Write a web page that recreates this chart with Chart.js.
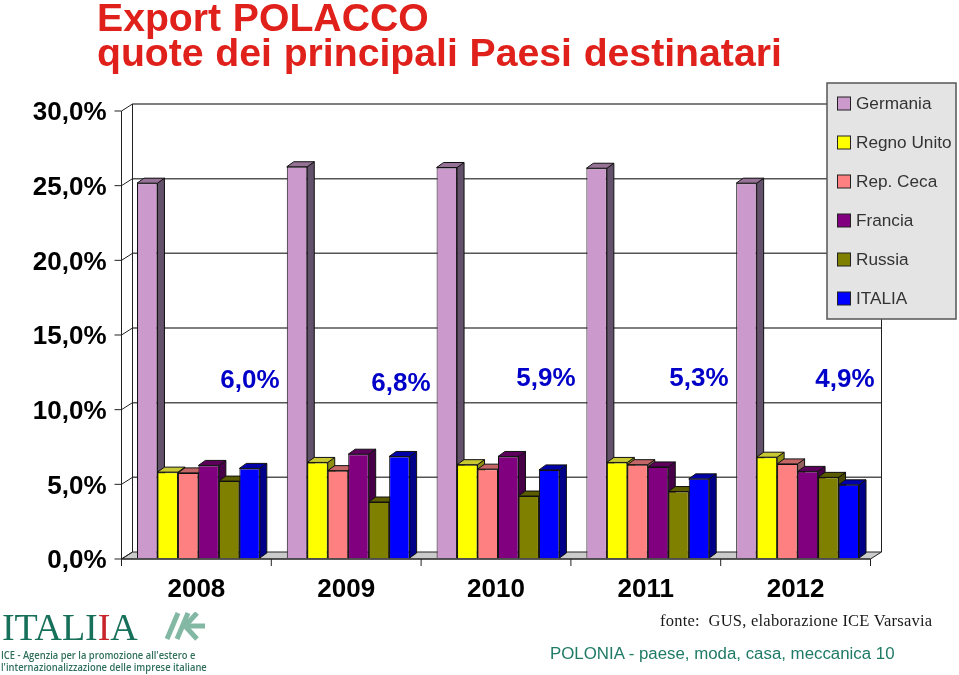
<!DOCTYPE html>
<html>
<head>
<meta charset="utf-8">
<title>Export POLACCO</title>
<script src="https://cdn.jsdelivr.net/npm/chart.js@4/dist/chart.umd.min.js"></script>
<style>
  html, body { margin: 0; padding: 0; background: #fff; overflow: hidden; }
  #wrap { position: relative; width: 959px; height: 675px; }
  #chart { position: absolute; left: 0; top: 0; }
  .txt { position: absolute; white-space: pre; }
  #title { left: 97px; top: 0; font: bold 39.2px/35px "Liberation Sans", Arial, sans-serif; color: #e0201b; word-spacing: .8px; }
  #fonte { left: 660px; top: 611px; font: 16.5px "Liberation Serif", serif; color: #1a1a1a; letter-spacing: .23px; }
  #footer { left: 550px; top: 644px; font: 16.85px "Liberation Sans", Arial, sans-serif; color: #1f7a66; }
  #logo1 { left: 2px; top: 605px; font: 38px "Liberation Serif", serif; color: #17705a; letter-spacing: -.1px; }
  #logo1 b { font-weight: normal; color: #c8252b; }
  #logo2 { left: 1px; top: 649px; font: 600 11.5px/12px "Open Sans", sans-serif; color: #2f6f5c; transform: scaleX(.815); transform-origin: left top; }
  #arrow { position: absolute; left: 164px; top: 612px; }
</style>
</head>
<body>
<div id="wrap">
  <canvas id="chart" width="959" height="675"></canvas>
  <div class="txt" id="title">Export POLACCO
quote dei principali Paesi destinatari</div>
  <div class="txt" id="fonte">fonte:  GUS, elaborazione ICE Varsavia</div>
  <div class="txt" id="footer">POLONIA - paese, moda, casa, meccanica 10</div>
  <div class="txt" id="logo1">ITAL<span>I</span><b>I</b>A</div>
  <div class="txt" id="logo2">ICE - Agenzia per la promozione all'estero e
l'internazionalizzazione delle imprese italiane</div>
  <svg id="arrow" width="44" height="30" viewBox="0 0 44 30">
    <g fill="none" stroke="#82b8a4" stroke-width="5">
      <path d="M14 1 L3 27"/><path d="M24 1 L13 27"/><path d="M33 1 L21 14 L33 27"/><path d="M24 14 L41 14"/>
    </g>
  </svg>
</div>
<script>
const years = ['2008', '2009', '2010', '2011', '2012'];
const germania = [25.1, 26.2, 26.15, 26.1, 25.1];
const regnoUnito = [5.75, 6.4, 6.25, 6.4, 6.75];
const repCeca = [5.7, 5.85, 5.95, 6.25, 6.3];
const francia = [6.2, 6.95, 6.8, 6.1, 5.8];
const russia = [5.15, 3.75, 4.15, 4.45, 5.4];
const italia = [6.0, 6.8, 5.9, 5.3, 4.9];
const italiaLabels = ['6,0%', '6,8%', '5,9%', '5,3%', '4,9%'];

const names = ['Germania', 'Regno Unito', 'Rep. Ceca', 'Francia', 'Russia', 'ITALIA'];
const series = [germania, regnoUnito, repCeca, francia, russia, italia];
const frontColors = ['#cc99cc', '#ffff00', '#ff8080', '#800080', '#808000', '#0000ff'];
const topColors = ['#957296', '#c8c832', '#c46666', '#5c005c', '#5c5c00', '#0000aa'];
const sideColors = ['#63506a', '#8f8f14', '#96605f', '#470047', '#474700', '#000088'];

// 3D box sizes
const WALL_DX = 11, WALL_DY = -7;
const BAR_DX = 7, BAR_DY = -5;
const PLANE_DX = 2, PLANE_DY = -1;

function line(ctx, x1, y1, x2, y2) {
  ctx.beginPath();
  ctx.moveTo(x1, y1);
  ctx.lineTo(x2, y2);
  ctx.stroke();
}

function poly(ctx, pts, fill, stroke) {
  ctx.beginPath();
  pts.forEach((p, i) => i ? ctx.lineTo(p[0], p[1]) : ctx.moveTo(p[0], p[1]));
  ctx.closePath();
  ctx.fillStyle = fill;
  ctx.fill();
  if (stroke) {
    ctx.strokeStyle = stroke;
    ctx.lineWidth = 1;
    ctx.stroke();
  }
}

const wallsPlugin = {
  id: 'walls',
  beforeDatasetsDraw(chart) {
    const { ctx, chartArea: a, scales: { y } } = chart;
    const bottom = y.getPixelForValue(0);
    ctx.save();

    // floor
    poly(ctx, [[a.left, bottom], [a.left + WALL_DX, bottom + WALL_DY],
      [a.right + WALL_DX, bottom + WALL_DY], [a.right, bottom]], '#cbcbcb', '#222');

    // grid lines on the back wall
    y.ticks.forEach(t => {
      const py = y.getPixelForValue(t.value);
      ctx.strokeStyle = '#555';
      ctx.lineWidth = 1.5;
      if (t.value > 0) line(ctx, a.left + WALL_DX, py + WALL_DY, a.right + WALL_DX, py + WALL_DY);
      ctx.strokeStyle = '#222';
      ctx.lineWidth = 1;
      line(ctx, a.left - 7, py, a.left, py);
      line(ctx, a.left, py, a.left + WALL_DX, py + WALL_DY);
    });

    // walls and front axes
    ctx.strokeStyle = '#222';
    ctx.lineWidth = 1;
    line(ctx, a.left, a.top, a.left, bottom);
    line(ctx, a.left + WALL_DX, a.top + WALL_DY, a.left + WALL_DX, bottom + WALL_DY);
    line(ctx, a.right + WALL_DX, a.top + WALL_DY, a.right + WALL_DX, bottom + WALL_DY);
    line(ctx, a.left, bottom, a.right, bottom);
    for (let i = 0; i <= years.length; i++) {
      const px = a.left + i * (a.right - a.left) / years.length;
      line(ctx, px, bottom, px, bottom + 7);
    }
    ctx.restore();
  },
  // chart.js paints the last dataset first, here the later bars must cover the earlier ones
  beforeDatasetDraw() {
    return false;
  },
  afterDatasetsDraw(chart) {
    const ctx = chart.ctx;
    ctx.save();
    ctx.translate(PLANE_DX, PLANE_DY);
    series.forEach((_, i) => {
      const meta = chart.getDatasetMeta(i);
      meta.data.forEach(bar => {
        const l = bar.x - bar.width / 2, r = bar.x + bar.width / 2;
        const t = bar.y, b = bar.base;
        poly(ctx, [[r, t], [r + BAR_DX, t + BAR_DY], [r + BAR_DX, b + BAR_DY], [r, b]], sideColors[i], '#111');
        poly(ctx, [[l, t], [l + BAR_DX, t + BAR_DY], [r + BAR_DX, t + BAR_DY], [r, t]], topColors[i], '#111');
      });
      meta.controller.draw();
    });
    ctx.restore();

    ctx.save();
    // Italian share labels, floating above the bars
    const labelX = [250, 401, 546, 699, 845];
    const labelY = [381, 384, 379, 379, 380];
    ctx.font = 'bold 26px "Liberation Sans", Arial, sans-serif';
    ctx.fillStyle = '#0000c8';
    ctx.textAlign = 'center';
    ctx.textBaseline = 'middle';
    italiaLabels.forEach((s, i) => ctx.fillText(s, labelX[i], labelY[i]));

    // legend box
    const box = { l: 827, t: 83, r: 956, b: 319 };
    ctx.fillStyle = '#e4e4e4';
    ctx.strokeStyle = '#555';
    ctx.lineWidth = 1.5;
    ctx.fillRect(box.l, box.t, box.r - box.l, box.b - box.t);
    ctx.strokeRect(box.l, box.t, box.r - box.l, box.b - box.t);
    ctx.font = '17.2px "Liberation Sans", Arial, sans-serif';
    ctx.textAlign = 'left';
    names.forEach((n, i) => {
      const cy = 103.5 + i * 39;
      ctx.fillStyle = frontColors[i];
      ctx.strokeStyle = '#222';
      ctx.lineWidth = 1;
      ctx.fillRect(837.5, cy - 6.5, 13, 13);
      ctx.strokeRect(837.5, cy - 6.5, 13, 13);
      ctx.fillStyle = '#333';
      ctx.fillText(n, 856, cy + 1);
    });
    ctx.restore();
  }
};

new Chart(document.getElementById('chart'), {
  type: 'bar',
  data: {
    labels: years,
    datasets: series.map((values, i) => ({
      label: names[i],
      data: values,
      backgroundColor: frontColors[i],
      borderColor: '#111',
      borderWidth: 1,
      categoryPercentage: 0.82,
      barPercentage: 1
    }))
  },
  options: {
    responsive: false,
    animation: false,
    layout: { padding: { top: 111, right: 88.5, left: 0, bottom: 0 } },
    plugins: { legend: { display: false }, tooltip: { enabled: false } },
    scales: {
      x: {
        grid: { display: false },
        border: { display: false },
        ticks: {
          color: '#000',
          padding: 7,
          maxRotation: 0,
          font: { family: '"Liberation Sans", Arial, sans-serif', size: 26, weight: 'bold' }
        },
        afterFit(scale) { scale.height = 116; }
      },
      y: {
        min: 0,
        max: 30,
        grid: { display: false },
        border: { display: false },
        ticks: {
          stepSize: 5,
          color: '#000',
          padding: 7,
          labelOffset: 2,
          callback: v => v.toFixed(1).replace('.', ',') + '%',
          font: { family: '"Liberation Sans", Arial, sans-serif', size: 26, weight: 'bold' }
        },
        afterFit(scale) { scale.width = 121.5; }
      }
    }
  },
  plugins: [wallsPlugin]
});
</script>
</body>
</html>
